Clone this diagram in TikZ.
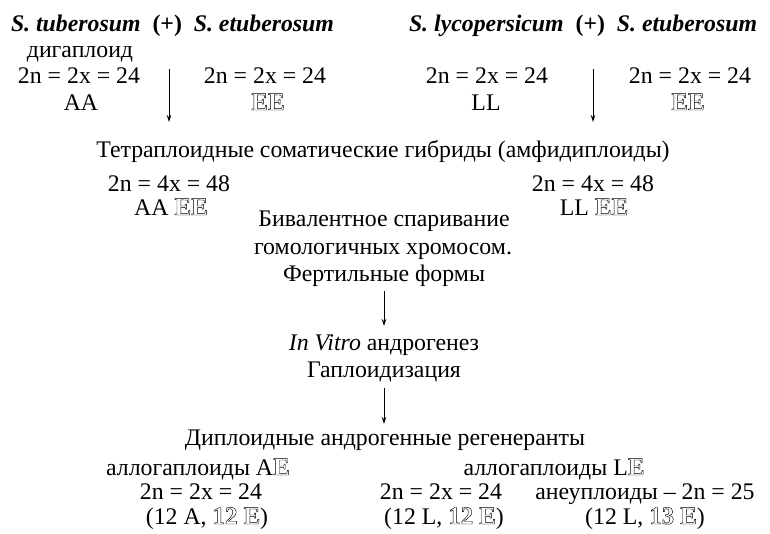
\documentclass[tikz,border=0pt]{standalone}
\usepackage{fontspec}
\setmainfont{Liberation Serif}
\usetikzlibrary{arrows.meta}
\newcommand\dbl[1]{{\fontsize{25}{27}\selectfont\bfseries\special{pdf:literal direct 1 Tr 0.45 w}#1\special{pdf:literal direct 0 Tr}}}
\begin{document}
\begin{tikzpicture}[x=1pt,y=-1pt,
  every node/.style={inner sep=0pt,outer sep=0pt},
  txt/.style={anchor=base,font=\fontsize{23.8}{27}\selectfont},
  ttl/.style={anchor=base west,font=\fontsize{23.8}{27}\selectfont\bfseries},
  arr/.style={line width=0.9pt,-{Stealth[length=7pt,width=4.5pt]}}]
\useasboundingbox (0,0) rectangle (770,533);
% titles
\node[ttl] (t1) at (11,31) {\textit{S. tuberosum}\enspace(+)\enspace\textit{S. etuberosum}};
\node[ttl] (t2) at (409,31) {\textit{S. lycopersicum}\enspace(+)\enspace\textit{S. etuberosum}};
% left pair
\node[txt] (dig) at (80,57) {дигаплоид};
\node[txt] (c1) at (79,83) {2n = 2x = 24};
\node[txt] (g1) at (81,110) {AA};
\node[txt] (c2) at (265,83) {2n = 2x = 24};
\node[txt] (g2) at (268,110) {\dbl{EE}};
% right pair
\node[txt] (c3) at (487,83) {2n = 2x = 24};
\node[txt] (g3) at (486,110) {LL};
\node[txt] (c4) at (690,83) {2n = 2x = 24};
\node[txt] (g4) at (688,110) {\dbl{EE}};
% arrows
\coordinate (a1s) at (169,69);
\coordinate (a1e) at (169,122);
\coordinate (a2s) at (593,69);
\coordinate (a2e) at (593,122);
\draw[arr] (a1s) -- (a1e);
\draw[arr] (a2s) -- (a2e);
% tetraploids
\node[txt] (tet) at (383,157) {Тетраплоидные соматические гибриды (амфидиплоиды)};
\node[txt] (c5) at (169,191) {2n = 4x = 48};
\node[txt] (g5) at (171,215) {AA \dbl{EE}};
\node[txt] (c6) at (593,191) {2n = 4x = 48};
\node[txt] (g6) at (594,215) {LL \dbl{EE}};
\node[txt] (b1) at (384,226) {Бивалентное спаривание};
\node[txt] (b2) at (383,254) {гомологичных хромосом.};
\node[txt] (b3) at (384,281) {Фертильные формы};
\node[txt] (iv) at (384,350) {\textit{In Vitro} андрогенез};
\node[txt] (hp) at (384,377) {Гаплоидизация};
\coordinate (a3s) at (384,291);
\coordinate (a3e) at (384,326);
\coordinate (a4s) at (384,388);
\coordinate (a4e) at (384,424);
\draw[arr] (a3s) -- (a3e);
\draw[arr] (a4s) -- (a4e);
% bottom
\node[txt] (dip) at (385,445) {Диплоидные андрогенные регенеранты};
\node[txt] (al1) at (198,475) {аллогаплоиды A\dbl{E}};
\node[txt] (al2) at (554,475) {аллогаплоиды L\dbl{E}};
\node[txt] (c7) at (201,499) {2n = 2x = 24};
\node[txt] (c8) at (441,499) {2n = 2x = 24};
\node[txt] (c9) at (645,499) {анеуплоиды – 2n = 25};
\node[txt] (f1) at (207,524) {(12 A, \dbl{12} \dbl{E})};
\node[txt] (f2) at (444,524) {(12 L, \dbl{12} \dbl{E})};
\node[txt] (f3) at (645,524) {(12 L, \dbl{13} \dbl{E})};
\end{tikzpicture}
\end{document}
